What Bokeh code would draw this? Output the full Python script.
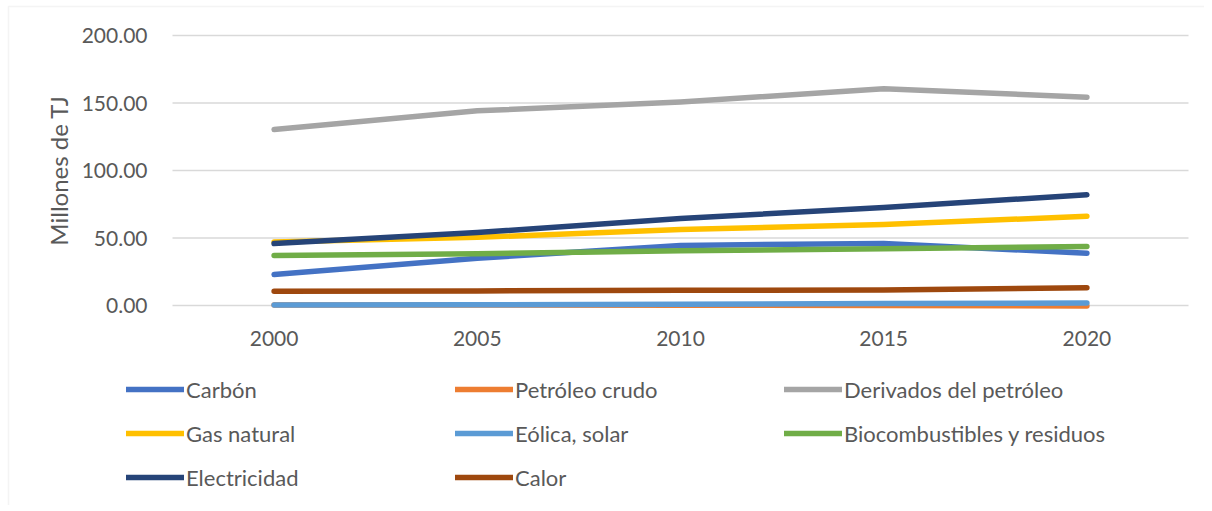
from bokeh.plotting import figure
from bokeh.models import Range1d, FixedTicker, PrintfTickFormatter, Legend, LegendItem, BoxAnnotation
from bokeh.embed import file_html
from bokeh.resources import INLINE

years = [2000, 2005, 2010, 2015, 2020]
series_names = ["Carbón", "Petróleo crudo", "Derivados del petróleo", "Gas natural",
                "Eólica, solar", "Biocombustibles y residuos", "Electricidad", "Calor"]
carbon = [23.0, 35.0, 44.5, 46.0, 38.7]
petroleo_crudo = [0.3, 0.3, 0.2, 0.0, -0.3]
derivados = [130.4, 144.2, 150.8, 160.5, 154.3]
gas_natural = [47.0, 50.5, 56.3, 60.0, 66.1]
eolica_solar = [0.3, 0.5, 0.9, 1.4, 1.9]
biocombustibles = [37.0, 38.3, 40.6, 42.0, 43.7]
electricidad = [45.9, 54.0, 64.4, 72.6, 82.0]
calor = [10.5, 10.8, 11.3, 11.5, 13.1]
y_ticks = [0, 50, 100, 150, 200]

colors = ["#4472C4", "#ED7D31", "#A5A5A5", "#FFC000", "#5B9BD5", "#70AD47", "#264478", "#9E480E"]
data = [carbon, petroleo_crudo, derivados, gas_natural, eolica_solar, biocombustibles, electricidad, calor]

FONT = "Lato"
TXT = "#595959"

# layout (pixels)
W, H = 1204, 505
PLOT_L, PLOT_R = 172, 1188          # plot-area left/right in pixels
Y0_PX = 305                          # pixel row of y = 0
KY = 1.35                            # pixels per unit in y
X_LO, X_HI = 1997.5, 2022.5          # category bounds of plot area
KX = (PLOT_R - PLOT_L) / (X_HI - X_LO)

x_start = X_LO - PLOT_L / KX
x_end = X_HI + (W - PLOT_R) / KX
y_end = Y0_PX / KY
y_start = -(H - Y0_PX) / KY

p = figure(width=W, height=H, output_backend="svg", toolbar_location=None,
           x_range=Range1d(x_start, x_end), y_range=Range1d(y_start, y_end),
           min_border_left=0, min_border_right=0, min_border_top=0, min_border_bottom=0)
p.outline_line_color = None
p.xgrid.visible = False
p.ygrid.visible = False

# horizontal gridlines across the plot area
p.segment(x0=X_LO, x1=X_HI, y0=y_ticks, y1=y_ticks, line_color="#D9D9D9", line_width=1.5)

renderers = {}
for name, vals, c in zip(series_names, data, colors):
    renderers[name] = p.line(years, vals, line_color=c, line_width=5.5,
                             line_cap="round", line_join="round")

p.xaxis.ticker = FixedTicker(ticks=years)
p.yaxis.ticker = FixedTicker(ticks=y_ticks)
p.yaxis.formatter = PrintfTickFormatter(format="%.2f")
p.xaxis.fixed_location = 0
p.yaxis.fixed_location = X_LO
p.xaxis.bounds = (X_LO, X_HI)
p.yaxis.bounds = (0, 200)
for ax in (p.xaxis[0], p.yaxis[0]):
    ax.axis_line_color = None
    ax.major_tick_line_color = None
    ax.minor_tick_line_color = None
    ax.major_label_text_font = FONT
    ax.major_label_text_font_size = "21px"
    ax.major_label_text_color = TXT
p.xaxis.major_label_standoff = 19
p.yaxis.major_label_standoff = 19
p.yaxis.axis_label = "Millones de TJ"
p.yaxis.axis_label_text_font = FONT
p.yaxis.axis_label_text_font_size = "24px"
p.yaxis.axis_label_text_font_style = "normal"
p.yaxis.axis_label_text_color = TXT
p.yaxis.axis_label_standoff = 6

# legend, filled column by column -> reorder so that it reads row by row
ncols = 3
nrows = -(-len(series_names) // ncols)
order = []
for c in range(ncols):
    for r in range(nrows):
        i = r * ncols + c
        if i < len(series_names):
            order.append(series_names[i])
items = [LegendItem(label=n, renderers=[renderers[n]]) for n in order]

legend = Legend(items=items, ncols=ncols, location=(126, 6),
                glyph_width=58, glyph_height=44, label_height=44, label_width=269,
                label_standoff=2, spacing=0, padding=0, margin=0,
                label_text_font=FONT, label_text_font_size="22px", label_text_color=TXT,
                border_line_color=None, background_fill_alpha=0)
p.add_layout(legend, "center")

# chart-area border
p.add_layout(BoxAnnotation(left=x_start + 8 / KX, right=x_end + 10, top=y_end - 6 / KY,
                           bottom=y_start - 10, fill_alpha=0, line_color="#D9D9D9", line_width=1.5))

open("out.html", "w").write(file_html(p, INLINE))
